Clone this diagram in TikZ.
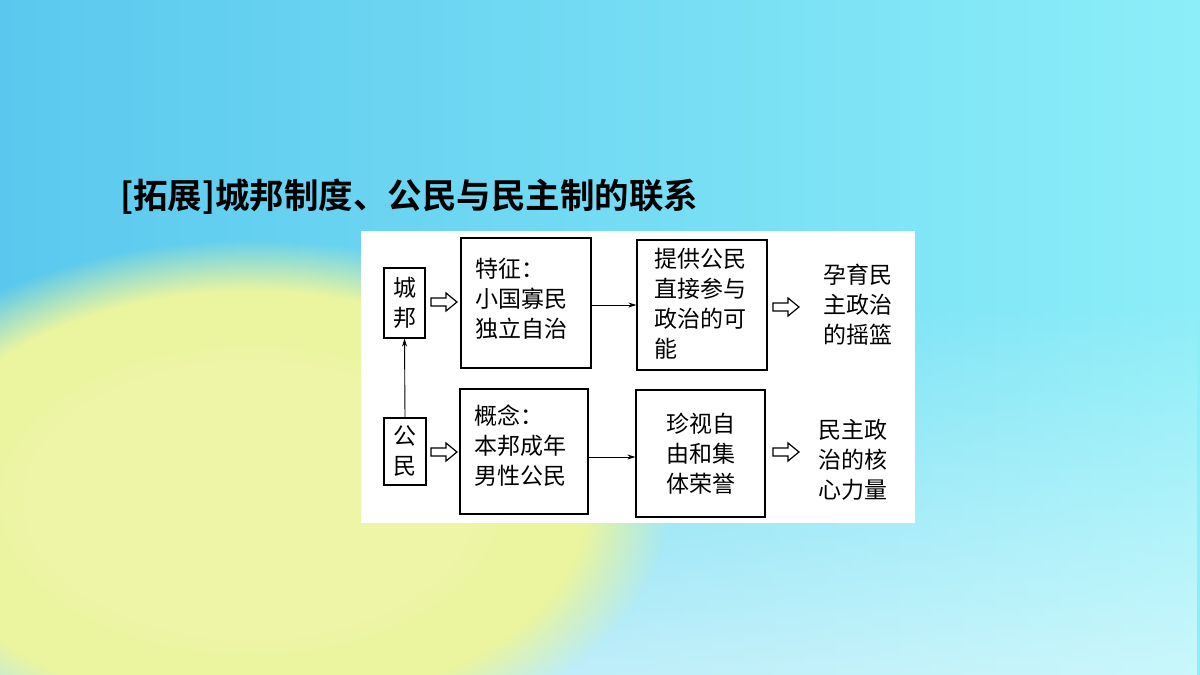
\documentclass[tikz,border=0pt]{standalone}
\usepackage{fontspec}
\newfontfamily\cjk{Noto Sans CJK SC}
\newfontfamily\cjkb{Noto Sans CJK SC Bold}
\usetikzlibrary{arrows.meta,fadings}
\definecolor{bgl}{RGB}{90,200,238}
\definecolor{bgr}{RGB}{140,238,248}
\definecolor{yel}{RGB}{235,245,160}
\definecolor{yel2}{RGB}{240,245,170}
\begin{document}
\begin{tikzpicture}[x=1pt,y=-1pt,
  bx/.style={draw,line width=1.2pt,inner sep=0pt},
  tx/.style={font=\cjk\fontsize{23}{30}\selectfont,align=left,inner sep=0pt},
  ln/.style={line width=0.9pt,-{Stealth[length=8pt,width=5pt]}},
  hol/.style={line width=1.2pt,fill=white}]
\useasboundingbox (0,0) rectangle (1200,675);
\shade[left color=bgl, right color=bgr] (0,0) rectangle (1200,675);
\fill[white,opacity=0.55,path fading=north] (0,300) rectangle (1200,675);
\fill[yel,path fading=circle with fuzzy edge 20 percent] (250,500) ellipse (420 and 260);
\fill[yel2,path fading=circle with fuzzy edge 15 percent,opacity=0.7] (250,500) ellipse (260 and 160);
\node[anchor=west,font=\cjkb\fontsize{34.5}{34.5}\selectfont,inner sep=0pt] (title) at (120,197) {[拓展]城邦制度、公民与民主制的联系};
\fill[white] (361,231) rectangle (915,523);
\node[bx,minimum width=41pt,minimum height=70pt] (cb) at (404.5,303) {};
\node[tx,align=center] at (cb) {城\\邦};
\node[bx,minimum width=42pt,minimum height=67pt] (gm) at (405,451.5) {};
\node[tx,align=center] at (gm) {公\\民};
\node[bx,minimum width=130pt,minimum height=130pt] (tz) at (526,303) {};
\node[tx,anchor=north west] at (475,258) {特征：\\小国寡民\\独立自治};
\node[bx,minimum width=128pt,minimum height=125pt] (gn) at (524,451.5) {};
\node[tx,anchor=north west] at (474,405) {概念：\\本邦成年\\男性公民};
\node[bx,minimum width=130pt,minimum height=130pt] (tg) at (702,305) {};
\node[tx,anchor=north west] at (654,248) {提供公民\\直接参与\\政治的可\\能};
\node[bx,minimum width=129pt,minimum height=127pt] (zs) at (700.5,453.5) {};
\node[tx,align=center] at (zs) {珍视自\\由和集\\体荣誉};
\node[tx,align=center] (r1) at (858,305) {孕育民\\主政治\\的摇篮};
\node[tx,align=center] (r2) at (853,460) {民主政\\治的核\\心力量};
\draw[ln] (tz.east |- 0,305) -- (tg.west |- 0,305);
\draw[ln] (gn.east |- 0,457) -- (zs.west |- 0,457);
\draw[ln] (gm.north) -- (cb.south);
\foreach \x/\y in {431/302,431/452,773/307,773/452}{
  \draw[hol] (\x,\y-4) -- (\x+15,\y-4) -- (\x+15,\y-9) -- (\x+26,\y) -- (\x+15,\y+9) -- (\x+15,\y+4) -- (\x,\y+4) -- cycle;}
\end{tikzpicture}
\end{document}
